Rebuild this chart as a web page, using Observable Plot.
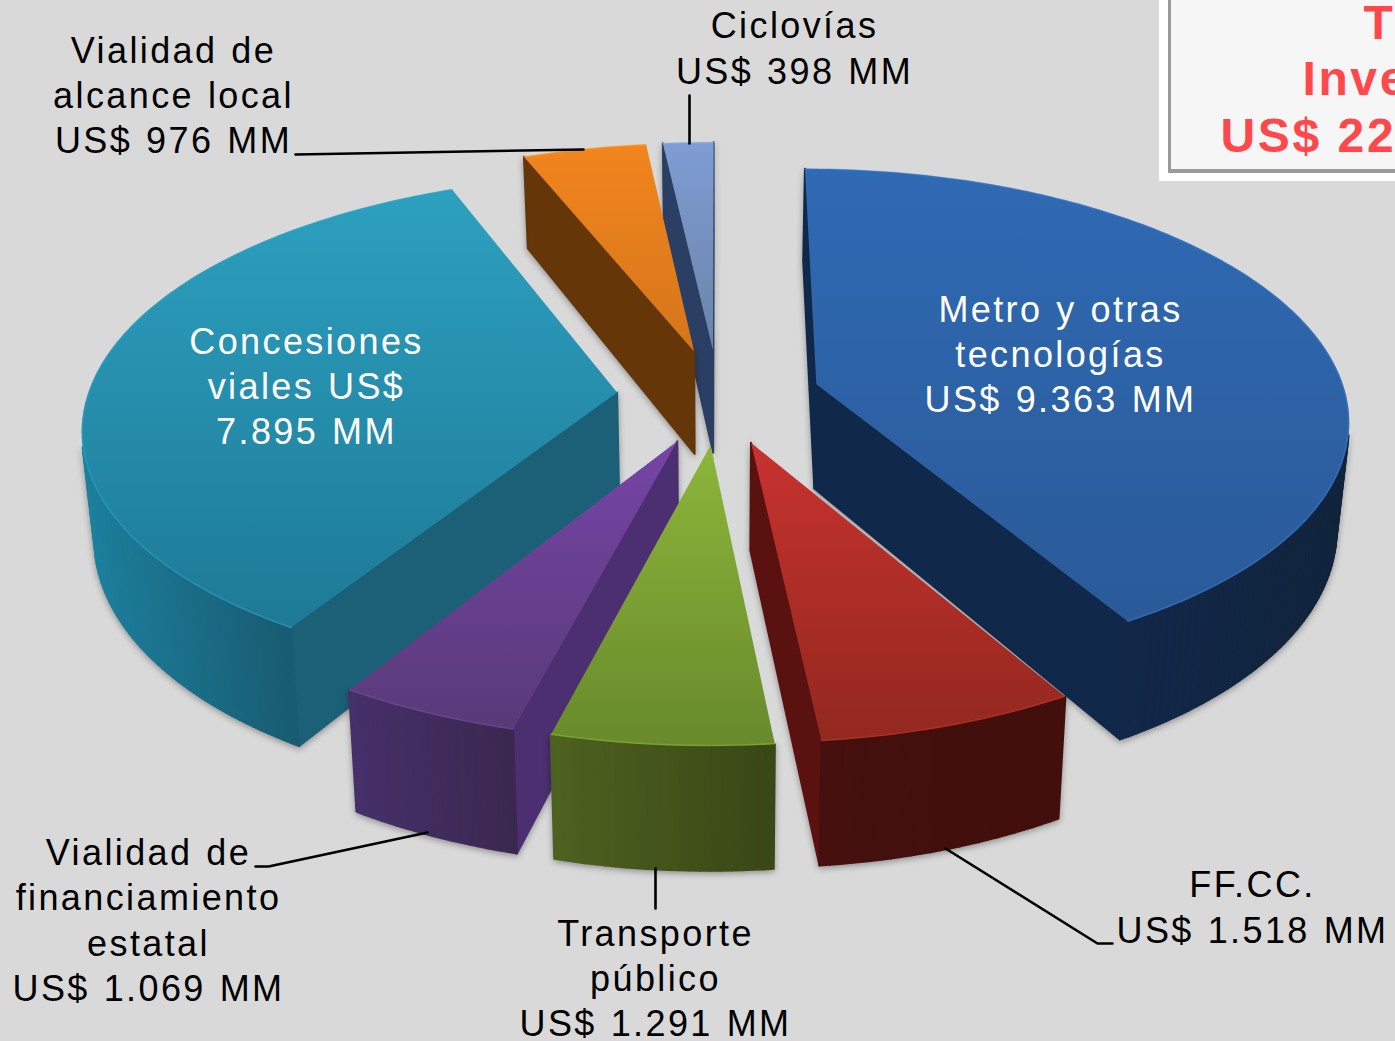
<!DOCTYPE html>
<html lang="es">
<head>
<meta charset="utf-8">
<script src="https://cdn.jsdelivr.net/npm/d3@7"></script>
<script src="https://cdn.jsdelivr.net/npm/@observablehq/plot@0.6"></script>
<style>
  html, body { margin: 0; padding: 0; background: #d9d9d9; overflow: hidden; }
  svg { display: block; }
  .lbl text, .lbl { letter-spacing: 2.4px; word-spacing: 1.5px; }
  .hdr text, .hdr { letter-spacing: 2.6px; font-kerning: none; }
  .wall { filter: drop-shadow(0 2px 3px rgba(0,0,0,.35)) blur(.5px); }
  .top { filter: blur(.5px); }
</style>
</head>
<body>
<script>
// ---- values (US$ MM), clockwise from twelve o'clock
const names = ["Metro", "FFCC", "Transporte", "Financiamiento", "Concesiones", "Local", "Ciclovias"];
const values = [9363, 1518, 1291, 1069, 7895, 976, 398];

// ---- colours
const topHi = ["#2f6ab4", "#c8322f", "#8db53a", "#7644a6", "#2da0c0", "#f2851e", "#7f9cd4"];
const topLo = ["#2a5a98", "#92281f", "#688a2c", "#583a78", "#1d7a96", "#d4761a", "#6a84a6"];
const sideColor = ["#10284a", "#5a1211", "#3f4f1a", "#4c2f70", "#1c6078", "#643608", "#2a3f63"];
const rimFrom = ["#12284a", "#45100e", "#4e6220", "#46306a", "#1c809d", "#643608", "#2a3f63"];
const rimTo = ["#11243c", "#420f0d", "#3a4716", "#3b2850", "#185a70", "#643608", "#2a3f63"];

// ---- text
const labelTexts = [
  "Vialidad de\nalcance local\nUS$ 976 MM",
  "Ciclovías\nUS$ 398 MM",
  "Metro y otras\ntecnologías\nUS$ 9.363 MM",
  "Concesiones\nviales US$\n7.895 MM",
  "Vialidad de\nfinanciamiento\nestatal\nUS$ 1.069 MM",
  "Transporte\npúblico\nUS$ 1.291 MM",
  "FF.CC.\nUS$ 1.518 MM"
];
const labelX = [173, 794, 1060, 306, 148, 655, 1252];
const labelY = [93, 46, 352, 384, 918, 976, 905];
const labelInk = ["#000", "#000", "#fff", "#fff", "#000", "#000", "#000"];
const headerLines = ["Total", "Inversión", "US$ 22.510 MM"];
const headerX = [1363, 1302, 1220];
const headerY = [23, 79, 136];

// ---- leader lines
const leaders = [
  [[295, 154], [583, 149]],
  [[689, 95], [689, 143]],
  [[255, 866], [268, 866], [427, 832]],
  [[655, 868], [655, 908]],
  [[945, 848], [1097, 943], [1112, 943]]
];

// ---- view of the tilted, exploded pie
const view = {cx: 718, cy: 396, k: 0.466, d: 4000, R: 530, explode: 102, depth: 105, narrow: 0.02};
function project(u, v, z) {
  const s = view.d / (view.d - v);
  return {x: view.cx + u * s * (1 - view.narrow * z), y: view.cy + (view.k * v + view.depth * z) * s};
}
function shoelace(p) {
  let a = 0;
  for (let i = 0; i < p.length; ++i) {
    const q = p[(i + 1) % p.length];
    a += p[i].x * q.y - q.x * p[i].y;
  }
  return a;
}

const arcs = d3.pie().sort(null)(values);
const slices = arcs.map((arc, i) => {
  const mid = (arc.startAngle + arc.endAngle) / 2;
  const ou = Math.sin(mid) * view.explode, ov = -Math.cos(mid) * view.explode;
  const at = (t, r, z) => project(ou + Math.sin(t) * r, ov - Math.cos(t) * r, z);
  const n = Math.max(2, Math.ceil((arc.endAngle - arc.startAngle) / (Math.PI / 180)));
  const ts = d3.range(n + 1).map(j => arc.startAngle + (arc.endAngle - arc.startAngle) * j / n);
  return {i, mid, at, ts, ov};
});
const order = d3.sort(slices, s => s.ov);

const marks = [
  // header box
  Plot.rect([{a: 1159, b: 1395, c: 0, d: 181}], {x1: "a", x2: "b", y1: "c", y2: "d", fill: "#ffffff"}),
  Plot.rect([{a: 1168, b: 1395, c: 0, d: 173}], {x1: "a", x2: "b", y1: "c", y2: "d", fill: "#9a9a9a"}),
  Plot.rect([{a: 1171, b: 1395, c: 0, d: 169}], {x1: "a", x2: "b", y1: "c", y2: "d", fill: "#f6f6f6"}),
  Plot.text(headerLines, {
    x: (d, i) => headerX[i], y: (d, i) => headerY[i], text: d => d,
    textAnchor: "start", fontFamily: "Liberation Sans, Arial, sans-serif", fontWeight: "bold",
    fontSize: 48, fill: "#ff484c", className: "hdr"
  }),
  // gradient definitions
  () => {
    const defs = d3.create("svg:defs");
    slices.forEach(s => {
      const pts = [s.at(s.ts[0], 0, 0), ...s.ts.map(t => s.at(t, view.R, 0))];
      const g = defs.append("linearGradient").attr("id", `top${s.i}`)
        .attr("gradientUnits", "userSpaceOnUse")
        .attr("x1", 0).attr("x2", 0)
        .attr("y1", d3.min(pts, p => p.y)).attr("y2", d3.max(pts, p => p.y));
      g.append("stop").attr("offset", 0).attr("stop-color", topHi[s.i]);
      g.append("stop").attr("offset", 1).attr("stop-color", topLo[s.i]);
    });
    return defs.node();
  }
];

order.forEach(s => {
  const {i, at, ts} = s;
  // walls, kept only where they face the viewer
  const faces = [];
  const sideA = [at(ts[0], 0, 0), at(ts[0], view.R, 0), at(ts[0], view.R, 1), at(ts[0], 0, 1)];
  const last = ts[ts.length - 1];
  const sideB = [at(last, view.R, 0), at(last, 0, 0), at(last, 0, 1), at(last, view.R, 1)];
  if (shoelace(sideA) < 0) faces.push({pts: sideA, c: sideColor[i]});
  if (shoelace(sideB) < 0) faces.push({pts: sideB, c: sideColor[i]});
  const tone = d3.interpolateRgb(rimFrom[i], rimTo[i]);
  const rimQuads = d3.pairs(ts).map(([a, b]) => [at(a, view.R, 0), at(b, view.R, 0), at(b, view.R, 1), at(a, view.R, 1)]);
  const shown = rimQuads.filter(q => shoelace(q) < 0);
  const xs = d3.extent(shown.flat(), p => p.x);
  shown.forEach(q => faces.push({pts: q, c: tone(xs[1] > xs[0] ? (q[0].x - xs[0]) / (xs[1] - xs[0]) : 0)}));
  const wallRows = faces.flatMap((f, fi) => f.pts.map(p => ({x: p.x, y: p.y, f: fi, c: f.c})));
  if (wallRows.length) marks.push(Plot.line(wallRows, {
    x: "x", y: "y", z: "f", fill: "c", stroke: "c", strokeWidth: 2,
    curve: "linear-closed", className: "wall"
  }));
  // top face
  const top = [at(ts[0], 0, 0), ...ts.map(t => at(t, view.R, 0))];
  marks.push(Plot.line(top, {
    x: "x", y: "y", fill: `url(#top${i})`, stroke: "none",
    curve: "linear-closed", className: "top"
  }));
  // thin bevel along the rim
  marks.push(Plot.line(ts.map(t => at(t, view.R - 1, 0)), {
    x: "x", y: "y", stroke: d3.color(topLo[i]).brighter(0.9).formatHex(),
    strokeWidth: 1.6, strokeOpacity: 0.45, className: "top"
  }));
});

marks.push(
  Plot.line(leaders.flatMap((l, i) => l.map(([x, y]) => ({x, y, i}))), {
    x: "x", y: "y", z: "i", stroke: "#000", strokeWidth: 2.6, strokeLinejoin: "miter"
  }),
  Plot.text(labelTexts, {
    x: (d, i) => labelX[i], y: (d, i) => labelY[i], text: d => d,
    fill: (d, i) => labelInk[i], fontFamily: "Liberation Sans, Arial, sans-serif",
    fontSize: 36, lineHeight: 1.26, lineAnchor: "middle", textAnchor: "middle", className: "lbl"
  })
);

const chart = Plot.plot({
  width: 1395,
  height: 1041,
  margin: 0,
  x: {domain: [0, 1395], range: [0, 1395], axis: null},
  y: {domain: [0, 1041], range: [0, 1041], axis: null},
  color: {type: "identity"},
  style: {background: "#d9d9d9", overflow: "hidden"},
  marks
});
document.body.appendChild(chart);
</script>
</body>
</html>
